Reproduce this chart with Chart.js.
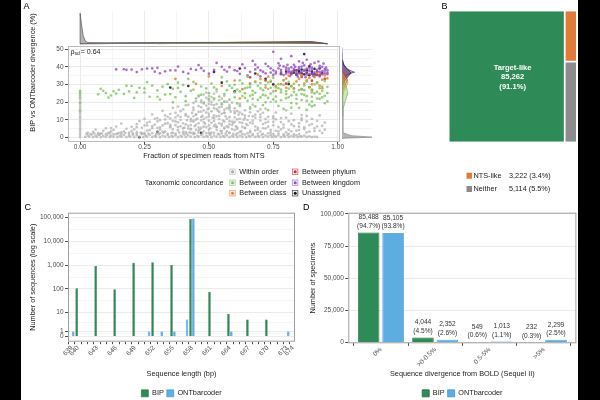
<!DOCTYPE html>
<html>
<head>
<meta charset="utf-8">
<script src="https://cdn.jsdelivr.net/npm/chart.js@4.4.1/dist/chart.umd.min.js"></script>
<style>
html,body{margin:0;padding:0;background:#fff;}
#wrap{position:relative;width:600px;height:400px;overflow:hidden;background:#fff;font-family:'Liberation Sans',Arial,sans-serif;}
#wrap canvas{position:absolute;}
.band{position:absolute;top:0;height:400px;background:#000;z-index:5;}
.plab{position:absolute;font-size:9px;line-height:1;color:#000;}
</style>
</head>
<body>
<div id="wrap">
<canvas id="cA" width="345" height="200" style="left:21px;top:0px;"></canvas>
<canvas id="cTop" width="345" height="46" style="left:21px;top:0px;"></canvas>
<canvas id="cRight" width="45" height="110" style="left:330px;top:40px;"></canvas>
<canvas id="cB" width="138" height="200" style="left:440px;top:0px;"></canvas>
<canvas id="cC" width="326" height="207" style="left:21px;top:200px;"></canvas>
<canvas id="cD" width="326" height="207" style="left:300px;top:200px;"></canvas>
<div class="plab" style="left:23.5px;top:2px;">A</div>
<div class="plab" style="left:441.5px;top:2px;">B</div>
<div class="plab" style="left:24.5px;top:203px;">C</div>
<div class="plab" style="left:303px;top:203px;">D</div>
<div class="band" style="left:0;width:21px;"></div>
<div class="band" style="left:578px;width:22px;"></div>
</div>
<script>
// ================= DATA =================
// Panel A: scatter, fraction of reads from NTS (x) vs divergence % (y)
const concordanceLabels = ['Within order','Between order','Between class','Between phylum','Between kingdom','Unassigned'];
const withinOrder = [
[0.02,0.3],[0.03,1.1],[0.035,0.5],[0.045,1.6],[0.05,0.2],[0.06,0.9],[0.065,0.4],[0.075,1.4],[0.08,0.2],[0.09,0.8],[0.1,0.4],[0.105,1.5],[0.115,0.3],[0.12,1.0],[0.13,0.5],[0.14,1.8],[0.145,0.2],[0.155,0.9],[0.16,0.4],[0.17,1.3],[0.18,0.2],[0.19,0.8],[0.195,0.5],[0.205,1.6],[0.21,0.3],[0.22,1.1],[0.23,0.4],[0.24,1.9],[0.245,0.2],[0.255,0.9],[0.26,0.5],[0.27,1.4],[0.28,0.3],[0.29,0.8],[0.295,0.4],[0.305,1.7],[0.31,0.2],[0.32,1.0],[0.33,0.5],[0.34,1.5],[0.345,0.3],[0.355,0.8],[0.36,0.4],[0.37,1.2],[0.38,0.2],[0.39,0.9],[0.395,0.5],[0.405,1.6],[0.41,0.3],[0.42,1.1],[0.43,0.4],[0.44,1.8],[0.445,0.2],[0.455,0.9],[0.46,0.5],[0.47,1.3],[0.48,0.3],[0.49,0.8],[0.495,0.4],[0.505,1.5],[0.51,0.2],[0.52,1.0],[0.53,0.5],[0.54,1.7],[0.545,0.3],[0.555,0.8],[0.56,0.4],[0.57,1.2],[0.58,0.2],[0.59,0.9],[0.595,0.5],[0.605,1.4],[0.61,0.3],[0.62,1.0],[0.63,0.4],[0.64,1.6],[0.645,0.2],[0.655,0.9],[0.66,0.5],[0.67,1.2],[0.68,0.3],[0.69,0.8],[0.695,0.4],[0.705,1.5],[0.71,0.2],[0.72,1.0],[0.73,0.5],[0.74,1.3],[0.745,0.3],[0.755,0.8],[0.76,0.4],[0.77,1.1],[0.78,0.2],[0.79,0.9],[0.795,0.5],[0.805,1.4],[0.81,0.3],[0.82,0.8],[0.83,0.4],[0.84,1.2],[0.845,0.2],[0.855,0.7],[0.86,0.4],[0.87,1.0],[0.88,0.3],[0.89,0.6],[0.9,0.2],[0.91,0.5],[0.92,0.3],
[0.025,2.1],[0.04,1.9],[0.055,2.3],[0.07,1.8],[0.085,2.2],[0.1,2.0],[0.115,2.4],[0.13,1.9],[0.145,2.2],[0.16,2.0],[0.175,2.5],[0.19,1.9],[0.205,2.3],[0.22,2.0],[0.235,2.6],[0.25,1.8],[0.265,2.2],[0.28,2.4],[0.295,1.9],[0.31,2.3],[0.325,2.7],[0.34,2.0],[0.355,2.4],[0.37,2.1],[0.385,2.8],[0.4,2.2],[0.415,2.0],[0.43,2.5],[0.445,2.2],[0.46,2.7],[0.475,2.0],[0.49,2.4],[0.505,2.1],[0.52,2.6],[0.535,2.0],[0.55,2.3],[0.565,2.1],[0.58,2.5],[0.595,2.0],[0.61,2.3],[0.63,2.0],[0.65,2.4],[0.67,1.9],[0.69,2.2],[0.71,2.0],[0.73,2.3],[0.75,1.9],[0.77,2.1],[0.79,1.8],[0.81,2.0],[0.83,1.7],[0.85,1.9],
[0.03,2.6],[0.05,3.2],[0.07,2.4],[0.09,3.8],[0.11,2.7],[0.13,4.3],[0.15,2.5],[0.17,3.4],[0.19,2.8],[0.21,4.6],[0.22,3.0],[0.25,2.5],[0.26,3.9],[0.28,5.2],[0.3,2.9],[0.31,4.4],[0.33,3.3],[0.35,5.8],[0.36,2.6],[0.38,4.1],[0.39,6.3],[0.41,3.0],[0.43,4.9],[0.44,2.7],[0.46,5.6],[0.48,3.5],[0.5,4.4],[0.51,2.8],[0.53,6.1],[0.55,3.6],[0.56,5.0],[0.58,2.6],[0.6,4.2],[0.62,3.1],[0.64,5.4],[0.66,2.9],[0.68,4.0],[0.7,3.3],[0.72,5.1],[0.74,2.7],[0.76,3.8],[0.78,4.6],[0.8,2.9],[0.82,3.5],[0.85,4.2],[0.88,2.8],[0.91,3.6],[0.94,2.5],
[0.47,21],[0.5,23.5],[0.52,21.5],[0.49,25.5],[0.55,22],[0.45,20.5],[0.57,20.3],[0.53,26],
[0.4,16],[0.42,18.5],[0.44,15.5],[0.46,17.8],[0.48,19.2],[0.5,16.4],[0.51,18.7],[0.54,17.1],[0.56,15.8],[0.58,18.3],[0.6,16.5],[0.62,19],[0.64,15.4],[0.66,17.2],[0.38,17.5],[0.7,16],
[0.3,11],[0.33,12.5],[0.35,10.8],[0.37,14],[0.39,11.6],[0.41,13.2],[0.43,10.5],[0.45,12.8],[0.47,14.6],[0.49,11.3],[0.5,13.4],[0.52,10.9],[0.54,12.2],[0.56,14.1],[0.58,11.5],[0.6,13.7],[0.62,10.6],[0.64,12.4],[0.66,14.3],[0.68,11.2],[0.7,13],[0.72,10.4],[0.75,12],[0.78,11],[0.82,13.5],[0.86,10.8],[0.88,12.2],[0.28,13],[0.25,10.5],
[0.2,6],[0.22,7.5],[0.24,5.5],[0.26,8.3],[0.28,6.4],[0.3,9.1],[0.31,5.7],[0.33,7.8],[0.35,6.2],[0.36,9.4],[0.38,5.9],[0.4,8.0],[0.42,6.6],[0.44,9.6],[0.45,7.2],[0.47,5.4],[0.48,8.6],[0.5,6.8],[0.52,9.3],[0.53,5.8],[0.55,7.7],[0.57,6.3],[0.59,9.0],[0.61,5.6],[0.63,8.2],[0.65,6.9],[0.67,9.5],[0.69,5.5],[0.71,7.6],[0.73,6.1],[0.75,8.8],[0.77,5.9],[0.79,7.3],[0.81,9.2],[0.83,6.4],[0.85,8.1],[0.87,5.7],[0.89,7.0],[0.92,6.2],[0.95,8.4],[0.16,7.9],[0.12,5.3],[0.86,9.8],[0.9,10.5],[0.93,12.5],
[0.40,3.2],[0.41,7.4],[0.42,11.8],[0.43,4.6],[0.44,8.9],[0.45,13.1],[0.46,3.8],[0.47,9.7],[0.48,6.1],[0.49,14.2],[0.5,2.6],[0.51,8.3],[0.52,12.6],[0.53,4.2],[0.54,10.4],[0.55,6.7],[0.56,13.8],[0.57,3.4],[0.58,9.2],[0.59,7.1],[0.6,11.4],[0.61,4.8],[0.62,8.6],[0.63,13.2],[0.64,5.3],[0.65,9.9],
[0.405,5.6],[0.415,9.8],[0.425,2.9],[0.435,13.9],[0.445,6.4],[0.455,10.7],[0.465,4.5],[0.475,12.2],[0.485,7.8],[0.495,16.1],[0.505,5.2],[0.515,11.3],[0.525,7.3],[0.535,15.2],[0.545,3.7],[0.555,9.6],[0.565,11.9],[0.575,5.8],[0.585,14.6],[0.595,8.2],[0.605,6.3],[0.615,12.8],[0.625,3.5],[0.635,10.1],[0.645,7.6],[0.655,12.1],
[0.41,18.3],[0.44,19.6],[0.47,17.1],[0.49,22.4],[0.51,20.2],[0.53,18.9],[0.55,17.4],[0.57,16.6],[0.59,19.7],[0.61,14.9],[0.46,23.2],[0.5,19.1],[0.54,21.1],[0.48,24.3],[0.52,24.8],[0.56,23.6],
[0.06,4.5],[0.08,2.2],[0.1,5.1],[0.12,3.4],[0.14,6.2],[0.16,2.9],[0.18,4.9],[0.2,3.6],[0.22,5.8],[0.24,2.4],[0.26,6.7],[0.27,4.1],[0.29,7.3],[0.3,5.4],[0.32,3.2],[0.34,8.1],[0.36,4.6],[0.37,7.0],[0.39,9.9],[0.4,5.1],[0.33,10.2],[0.35,13.3],[0.37,9.1],[0.38,12.4],[0.32,15.1],[0.36,16.8],
[0.66,3.7],[0.67,7.9],[0.68,12.9],[0.69,4.4],[0.7,9.6],[0.71,5.2],[0.72,8.3],[0.73,11.7],[0.74,4.1],[0.75,6.9],[0.76,10.3],[0.77,3.5],[0.78,8.7],[0.79,5.6],[0.8,11.2],[0.81,4.3],[0.82,7.4],[0.83,9.8],[0.84,3.9],[0.85,6.1],[0.86,12.7],[0.87,4.8],[0.88,9.1],[0.89,3.3],[0.9,7.6],[0.91,5.2],[0.92,9.4],[0.93,3.8],[0.94,6.6],[0.95,4.4],[0.69,14.8],[0.72,16.3],[0.76,14.1],[0.67,18.6],[0.8,15.4],[0.74,20.1],
[0.42,5.1],[0.43,9.2],[0.44,12.0],[0.45,4.3],[0.46,8.1],[0.47,11.6],[0.48,15.4],[0.49,5.9],[0.5,9.5],[0.51,14.8],[0.52,6.4],[0.53,11.9],[0.54,8.0],[0.55,13.4],[0.56,5.5],[0.57,10.6],[0.58,15.9],[0.59,4.7],[0.6,8.9],[0.61,10.2],[0.62,14.1],[0.63,6.0],[0.64,11.0],[0.46,14.5],[0.48,10.5],[0.5,11.9],[0.52,16.6],[0.54,14.4],[0.56,9.0],[0.58,7.4],[0.6,14.6],[0.44,16.9],[0.47,19.9],[0.51,22.9],[0.53,16.1],[0.55,19.3],[0.49,18.0],[0.5,20.8],[0.52,18.4],[0.45,10.1],[0.43,7.0],[0.41,12.4],[0.39,14.9],[0.38,8.6],[0.37,11.3],[0.66,8.4],[0.67,12.0],[0.68,6.2],[0.7,11.5],[0.71,14.0],[0.73,8.9],[0.75,10.9],[0.35,7.1],[0.34,11.7],[0.32,6.8],[0.31,9.8],[0.29,10.6],[0.27,8.9],[0.25,6.9],[0.23,9.3],
[0,0.2],[0,1.5],[0,2.7],[0,4.1],[0,5.3],[0,6.8],[0,8.2],[0,9.4],[0,10.9],[0,12.1],[0,13.6],[0,14.8],[0,16.3],[0,17.5],[0,19.0],[0,20.2],[0,21.7]
];
const betweenOrder = [
[0,22.8],[0,24.1],[0,25.3],[0,26.4],[0,19.6],[0,15.2],
[0.07,24.5],[0.09,26.5],[0.1,25.2],[0.12,23.8],[0.15,27],[0.17,24.7],[0.19,26.1],[0.21,22.4],[0.23,28.2],[0.25,25.5],[0.27,23.1],[0.28,29.4],[0.3,26.7],[0.31,21.5],[0.33,24.3],[0.34,30.2],[0.36,27.6],[0.37,22.8],[0.39,25.9],[0.4,29.8],[0.41,20.6],[0.43,26.4],[0.44,31.5],[0.46,23.7],[0.47,28.9],[0.48,19.8],[0.5,25.1],[0.51,30.6],[0.52,22.2],[0.53,27.3],[0.55,18.9],[0.56,24.6],[0.57,31.8],[0.58,21.4],[0.59,28.1],[0.6,25.7],[0.61,19.3],[0.62,32.4],[0.63,23.5],[0.64,27.9],[0.65,20.8],[0.66,30.1],[0.67,24.2],[0.68,17.6],[0.69,29.3],[0.7,22.7],[0.71,26.8],[0.72,19.9],[0.73,31.2],[0.74,24.9],[0.75,21.6],[0.76,28.4],[0.77,17.9],[0.78,25.6],[0.79,32.6],[0.8,22.3],[0.81,27.7],[0.82,19.5],[0.83,30.4],[0.84,24.1],[0.85,26.9],[0.86,21.2],[0.87,29.6],[0.88,23.4],[0.89,18.6],[0.9,27.2],[0.91,25.0],[0.92,30.8],[0.93,21.9],[0.94,26.3],[0.95,23.6],[0.96,28.7],
[0.62,26.1],[0.64,22.4],[0.66,28.6],[0.68,25.3],[0.7,30.9],[0.72,23.8],[0.74,28.2],[0.76,20.4],[0.78,27.1],[0.8,24.7],[0.82,29.1],[0.84,21.8],[0.86,27.4],[0.88,31.7],[0.9,23.1],[0.92,25.8],[0.94,22.7],[0.96,20.5],[0.85,16.8],[0.91,18.2],[0.79,16.2],[0.88,15.6],[0.57,26.8],[0.6,29.9],[0.54,23.2],[0.49,27.8],[0.45,22.1],[0.42,33.2],[0.38,31.1],[0.32,28.8],[0.26,31.4],[0.2,29.2],[0.14,24.9],[0.55,34.1],[0.65,34.5],[0.75,33.9],[0.83,25.9],[0.77,30.2],[0.71,18.4],[0.67,21.9],[0.73,27.5],[0.81,22.9],[0.87,24.2],[0.93,27.9],[0.95,32.1],[0.9,20.4],
[0.56,20.3],[0.58,29.4],[0.6,22.8],[0.61,27.2],[0.62,17.9],[0.63,30.6],[0.64,25.1],[0.65,28.3],[0.66,23.6],[0.67,26.4],[0.68,31.4],[0.69,21.3],[0.7,27.8],[0.71,24.1],[0.72,29.7],[0.73,22.4],[0.74,32.1],[0.75,26.1],[0.76,23.2],[0.77,27.9],[0.78,21.1],[0.79,29.8],[0.8,26.3],[0.81,31.5],[0.82,23.9],[0.83,27.6],[0.84,19.2],[0.85,29.7],[0.86,24.6],[0.87,26.8],[0.88,20.7],[0.89,28.4],[0.9,25.6],[0.91,30.1],[0.92,22.1],[0.93,24.8],[0.94,28.9],[0.95,19.4],[0.96,25.2],[0.52,28.4],[0.5,21.7],[0.47,24.2],[0.44,27.1],[0.41,23.4],[0.38,28.1],[0.35,24.6],[0.3,23.1],[0.25,27.8],[0.22,25.6],[0.18,29.4],[0.13,26.2],[0.08,27.6],[0.11,22.6],[0.36,19.9],[0.58,17.1],[0.66,16.4],[0.73,15.5],[0.82,16.9],[0.9,17.6]
];
const betweenClass = [
[0.37,33.2],[0.45,30.4],[0.5,34.6],[0.55,29.2],[0.6,32.3],[0.63,27.4],[0.66,30.7],[0.69,35.6],[0.7,33.1],[0.72,28.3],[0.74,31.6],[0.76,26.5],[0.78,30.2],[0.8,33.4],[0.82,29.1],[0.84,31.8],[0.86,27.3],[0.88,32.5],[0.9,30.1],[0.91,34.2],[0.92,36.5],[0.93,29.4],[0.94,32.8],[0.95,35.2],[0.62,22.1],[0.86,35.4],[0.8,28.2],[0.9,26.8],
[0.76,29.1],[0.79,32.4],[0.83,27.8],[0.87,30.6],[0.89,33.8],[0.92,31.2],[0.94,27.9],[0.96,33.5],[0.68,31.7],[0.73,34.5],[0.81,35.1],[0.85,33.2]
];
const betweenPhylum = [[0.66,34.1],[0.72,32.3],[0.8,30.5],[0.86,34.3],[0.89,28.6],[0.9,32.2],[0.93,35.4],[0.95,33.2]];
const betweenKingdom = [
[0.14,38.6],[0.17,38.7],[0.2,38.5],[0.22,37.1],[0.24,38.6],[0.28,39.2],[0.29,37.3],[0.31,36.4],[0.33,37.5],[0.35,38.1],[0.38,40.2],[0.4,37.2],[0.42,36.3],[0.45,38.4],[0.47,39.3],[0.5,36.2],[0.52,38.3],[0.55,40.1],[0.57,37.4],[0.6,38.2],[0.62,36.1],[0.64,39.4],[0.66,37.2],[0.68,41.3],[0.7,38.1],[0.72,36.4],[0.74,39.2],[0.75,48.6],[0.76,37.3],[0.77,42.1],[0.78,38.4],[0.79,40.3],[0.8,36.2],[0.81,39.1],[0.82,37.4],[0.83,41.2],[0.84,38.1],[0.85,36.3],[0.86,40.2],[0.87,38.3],[0.88,37.1],[0.89,39.4],[0.9,36.2],[0.91,42.3],[0.92,38.4],[0.93,37.2],[0.94,40.1],[0.95,36.4],
[0.8,38.5],[0.81,36.9],[0.82,39.8],[0.83,37.6],[0.84,35.8],[0.85,38.8],[0.86,37.4],[0.87,40.9],[0.88,35.6],[0.89,37.9],[0.9,39.6],[0.91,36.8],[0.92,35.3],[0.93,39.2],[0.94,37.6],[0.95,38.9],[0.96,35.9],[0.85,43.2],[0.88,44.1],[0.82,46.1],[0.67,43.4],[0.78,44.6],[0.72,41.8],[0.63,41.5],[0.58,39.9],[0.53,42.3],[0.46,41.1],[0.3,39.5],[0.65,35.2],[0.7,34.7],[0.75,35.5],[0.78,35.9],[0.74,36.8],[0.68,38.6],[0.96,38.2],[0.93,34.6],
[0.75,38.1],[0.76,36.3],[0.77,39.2],[0.78,37.2],[0.79,35.4],[0.8,39.7],[0.81,37.8],[0.82,35.9],[0.83,38.9],[0.84,36.6],[0.85,39.9],[0.86,35.5],[0.87,37.7],[0.88,39.1],[0.89,36.1],[0.9,38.3],[0.91,35.2],[0.92,37.1],[0.93,40.6],[0.94,35.8],[0.95,37.9],[0.96,36.8],[0.805,41.2],[0.835,40.1],[0.865,42.3],[0.895,41.5],[0.925,43.1],[0.945,41.9],[0.775,40.8],[0.815,34.8],[0.845,34.5],[0.875,34.2],[0.905,34.9],[0.935,36.3],[0.955,39.6],[0.69,39.7],[0.71,37.3],[0.73,40.4],[0.61,37.7],[0.56,38.4],[0.48,37.8],[0.43,38.9],[0.37,38.1],[0.26,39.1],[0.18,38.4]
];
const unassigned = [[0.23,0.1],[0.3,3.1],[0.47,2.6],[0.35,28.3],[0.42,29.2],[0.55,31.1],[0.6,26.2],[0.72,33.3],[0.78,36.2],[0.81,30.3],[0.84,38.1],[0.86,36.4],[0.87,47.3],[0.88,38.2],[0.9,37.4],[0.92,35.6],[0.62,39.1],[0.68,36.3],[0.75,30.1],[0.52,37.2],[0.89,40.3],[0.93,39.2],[0.83,36.7],[0.85,37.8],[0.91,38.9],[0.8,37.3],
[0.82,36.4],[0.84,35.6],[0.85,36.9],[0.87,35.8],[0.88,36.7],[0.89,35.3],[0.9,36.2],[0.91,35.9],[0.92,37.4],[0.86,38.5],[0.83,37.9],[0.94,36.5]];
const spearmanRho = 0.64;
const xTicksA = [0, 0.25, 0.5, 0.75, 1];
const yTicksA = [0, 10, 20, 30, 40, 50];

// Panel A marginal densities ([x, density] top; [density, y] right)
const topDensGray = [[0,0],[0,0.93],[0.006,0.55],[0.012,0.25],[0.02,0.08],[0.03,0.035],[0.1,0.03],[0.3,0.035],[0.5,0.04],[0.7,0.035],[0.9,0.025],[0.96,0]];
const topDensGreen = [[0.05,0],[0.3,0.015],[0.6,0.03],[0.8,0.035],[0.96,0]];
const topDensOrange = [[0.3,0],[0.5,0.02],[0.62,0.05],[0.75,0.055],[0.88,0.05],[0.96,0]];
const topDensPurple = [[0,0],[0.15,0.012],[0.35,0.02],[0.55,0.03],[0.7,0.045],[0.82,0.06],[0.9,0.065],[0.96,0]];
const topDensBlack = [[0,0],[0.2,0.01],[0.5,0.02],[0.75,0.035],[0.88,0.045],[0.96,0]];
const rightDensGray = [[0,-0.5],[1,0.15],[0.3,1],[0.06,2.5],[0.04,6],[0.035,15],[0.02,25],[0.01,35],[0.005,51],[0,51]];
const rightDensGreen = [[0,12],[0.03,16],[0.1,20],[0.17,24],[0.19,26],[0.14,29],[0.06,32],[0,35]];
const rightDensOrange = [[0,22],[0.06,26],[0.16,29.5],[0.2,31],[0.15,33],[0.05,35.5],[0,37]];
const rightDensRed = [[0,25],[0.08,29],[0.18,32.5],[0.14,34.5],[0.04,36.5],[0,38]];
const rightDensBlack = [[0,28],[0.08,32],[0.22,35],[0.3,36.5],[0.2,38.5],[0.06,41],[0,44]];
const rightDensPurple = [[0,30],[0.05,33],[0.16,35.5],[0.3,36.5],[0.42,37],[0.3,37.8],[0.15,39],[0.06,41.5],[0.02,44],[0,48]];

// Panel B: treemap
const treemapLabels = ['Target-like','NTS-like','Neither'];
const treemapCounts = [85262, 3222, 5114];
const treemapPct = [91.1, 3.4, 5.5];

// Panel C: sequence length distribution
const bipLengths = [640,643,646,649,652,655,658,661,664,667,670];
const bipCounts  = [107,930,98,1270,1330,1030,88000,77,9,5,5];
const ontLengths = [639,651,653,655,657,658,664,673];
const ontCounts  = [1,1,1,1,5,93000,1,1];
const lengthLabels = [639,640,643,646,649,652,655,658,661,664,667,670,673,674];
const countTicks = [0,1,10,100,1000,10000,100000];

// Panel D: divergence from BOLD
const divCategories = ['0%','>0-0.5%','0.5-5%','>5%'];
const bipSpecimens = [85488, 4044, 549, 232];
const ontSpecimens = [85105, 2352, 1013, 2299];
const bipPct = [94.7, 4.5, 0.6, 0.3];
const ontPct = [93.8, 2.6, 1.1, 2.5];
const specimenTicks = [0, 25000, 50000, 75000, 100000];

// ================= STYLE / SETUP =================
const FONT = "'Liberation Sans', Arial, Helvetica, sans-serif";
Chart.defaults.font.family = FONT;
Chart.defaults.font.size = 7;
Chart.defaults.color = '#4d4d4d';
Chart.defaults.animation = false;
Chart.defaults.responsive = false;
Chart.defaults.events = [];
Chart.defaults.plugins.legend.display = false;
Chart.defaults.plugins.tooltip.enabled = false;

const GRID_MAJ = '#ebebeb', GRID_MIN = '#f5f5f5', TICKC = '#4d4d4d', TITLEC = '#1a1a1a';
const concColors = ['rgba(178,178,178,0.75)','rgba(125,198,92,0.8)','rgba(240,128,48,0.85)','rgba(214,39,40,0.85)','rgba(148,80,190,0.8)','rgba(30,18,30,0.85)'];
const concSolid = ['#a8a8a8','#7dc65c','#f08030','#d62728','#9450be','#1e121e'];
const BIP_COL = '#2e8b57', BIP_EDGE = '#1d6b3e', ONT_COL = '#5dade2', ONT_EDGE = '#3e93d3';

const near = (arr, v) => arr.some(a => Math.abs(a - v) < 1e-9);
const halfSteps = arr => { const out = []; for (let i = 0; i < arr.length; i++) { out.push(arr[i]); if (i < arr.length - 1) out.push((arr[i] + arr[i+1]) / 2); } return out; };
const pts = arr => arr.map(([x, y]) => ({x, y}));
const plog = v => Math.asinh(v / 2) / Math.LN10;
const fmt = n => n.toLocaleString('en-US');

const boxPlugin = {
  id: 'panelBox',
  afterDraw(chart, args, opts) {
    if (!opts || !opts.color) return;
    const a = chart.chartArea, c = chart.ctx;
    c.save(); c.strokeStyle = opts.color; c.lineWidth = 1;
    c.strokeRect(a.left + 0.5, a.top + 0.5, a.right - a.left - 1, a.bottom - a.top - 1);
    c.restore();
  }
};
Chart.register(boxPlugin);

// ================= PANEL A: scatter =================
const xGridA = halfSteps(xTicksA), yGridA = halfSteps(yTicksA);
const concData = [withinOrder, betweenOrder, betweenClass, betweenPhylum, betweenKingdom, unassigned];

const panelAExtras = {
  id: 'panelAExtras',
  afterDraw(chart) {
    const c = chart.ctx, a = chart.chartArea;
    c.save();
    c.fillStyle = TITLEC; c.textBaseline = 'middle';
    c.save(); c.translate(12, 72.5); c.rotate(-Math.PI / 2);
    c.font = `7.3px ${FONT}`; c.textAlign = 'center';
    c.fillText('BIP vs ONTbarcoder divergence (%)', 0, 0);
    c.restore();
    let x = a.left + 2.5; const y = a.top + 6;
    c.textAlign = 'left';
    c.font = `7px ${FONT}`; c.fillText('\u03C1', x, y); x += c.measureText('\u03C1').width;
    c.font = `5px ${FONT}`; c.fillText('sd', x, y + 2); x += c.measureText('sd').width + 1;
    c.font = `7px ${FONT}`; c.fillText('= ' + spearmanRho.toFixed(2), x, y);
    c.font = `7.3px ${FONT}`; c.textAlign = 'right';
    c.fillText('Taxonomic concordance', 202.5, 182.7);
    const colX = [211.5, 274.2], rowY = [171.7, 182.7, 193.3];
    c.textAlign = 'left';
    concordanceLabels.forEach((lab, i) => {
      const cx = colX[Math.floor(i / 3)], cy = rowY[i % 3];
      c.fillStyle = '#f0f0f0'; c.fillRect(cx - 3, cy - 3, 6, 6);
      c.strokeStyle = concColors[i]; c.lineWidth = 0.6; c.strokeRect(cx - 2.7, cy - 2.7, 5.4, 5.4);
      c.beginPath(); c.arc(cx, cy, 1.5, 0, Math.PI * 2); c.fillStyle = concSolid[i]; c.fill();
      c.fillStyle = TITLEC; c.fillText(lab, cx + 6.8, cy);
    });
    c.restore();
  }
};

new Chart(document.getElementById('cA'), {
  type: 'scatter',
  data: { datasets: concData.map((d, i) => ({
    label: concordanceLabels[i], data: pts(d), backgroundColor: concColors[i],
    pointRadius: 1.35, pointBorderWidth: 0, pointHoverRadius: 0
  })) },
  options: {
    layout: { padding: { left: 0, top: 46, right: 26, bottom: 0 }, autoPadding: false },
    scales: {
      x: { type: 'linear', min: -0.047, max: 1.009,
        afterBuildTicks: s => { s.ticks = xGridA.map(v => ({ value: v })); },
        afterFit: s => { s.height = 58; },
        grid: { color: c => near(xTicksA, c.tick.value) ? GRID_MAJ : GRID_MIN,
                tickColor: c => near(xTicksA, c.tick.value) ? TICKC : 'rgba(0,0,0,0)', tickLength: 2.5 },
        border: { display: false },
        ticks: { autoSkip: false, maxRotation: 0, padding: -0.5, font: { size: 6.5, lineHeight: 1 },
                 callback: v => near(xTicksA, v) ? v.toFixed(2) : '' },
        title: { display: true, text: 'Fraction of specimen reads from NTS', color: TITLEC,
                 font: { size: 7.3 }, padding: { top: 0, bottom: 39.6 } } },
      y: { type: 'linear', min: -2.6, max: 51.9,
        afterBuildTicks: s => { s.ticks = yGridA.map(v => ({ value: v })); },
        afterFit: s => { s.width = 47; },
        grid: { color: c => near(yTicksA, c.tick.value) ? GRID_MAJ : GRID_MIN,
                tickColor: c => near(yTicksA, c.tick.value) ? TICKC : 'rgba(0,0,0,0)', tickLength: 3 },
        border: { display: false },
        ticks: { autoSkip: false, padding: 1.5, font: { size: 6.5 },
                 callback: v => near(yTicksA, v) ? String(v) : '' } }
    },
    plugins: { panelBox: { color: '#bdbdbd' } }
  },
  plugins: [panelAExtras]
});

function densSet(d, fill, edge) {
  return { type: 'line', data: pts(d), fill: 'shape', backgroundColor: fill, borderColor: edge,
           borderWidth: 0.7, pointRadius: 0, tension: 0, showLine: true };
}
new Chart(document.getElementById('cTop'), {
  type: 'scatter',
  data: { datasets: [
    densSet(topDensGray, 'rgba(150,150,150,0.7)', '#555555'),
    densSet(topDensGreen, 'rgba(125,198,92,0.5)', '#4c7a3a'),
    densSet(topDensOrange, 'rgba(240,140,60,0.55)', '#a65a20'),
    densSet(topDensPurple, 'rgba(120,60,150,0.55)', '#4a1f4f'),
    densSet(topDensBlack, 'rgba(40,20,40,0.45)', '#2a0f2a')
  ] },
  options: {
    layout: { padding: { left: 47, top: 11, right: 26, bottom: 0 }, autoPadding: false },
    scales: {
      x: { type: 'linear', min: -0.047, max: 1.009,
        afterBuildTicks: s => { s.ticks = xGridA.map(v => ({ value: v })); },
        afterFit: s => { s.height = 1; },
        grid: { color: c => near(xTicksA, c.tick.value) ? GRID_MAJ : GRID_MIN, drawTicks: false },
        border: { display: false }, ticks: { display: false } },
      y: { display: false, min: -0.04, max: 1 }
    }
  }
});

new Chart(document.getElementById('cRight'), {
  type: 'scatter',
  data: { datasets: [
    densSet(rightDensGray, 'rgba(150,150,150,0.7)', '#8a8a8a'),
    densSet(rightDensGreen, 'rgba(140,205,110,0.45)', '#7ab85a'),
    densSet(rightDensOrange, 'rgba(245,160,60,0.45)', '#e0902c'),
    densSet(rightDensRed, 'rgba(215,60,50,0.4)', '#b33a2e'),
    densSet(rightDensBlack, 'rgba(60,30,60,0.5)', '#2d1030'),
    densSet(rightDensPurple, 'rgba(170,120,220,0.6)', '#5a2f78')
  ] },
  options: {
    layout: { padding: { left: 12, top: 6, right: 3, bottom: 8 }, autoPadding: false },
    scales: {
      x: { display: false, min: 0, max: 1 },
      y: { type: 'linear', min: -2.6, max: 51.9,
        afterBuildTicks: s => { s.ticks = yGridA.map(v => ({ value: v })); },
        afterFit: s => { s.width = 0; },
        grid: { color: c => near(yTicksA, c.tick.value) ? GRID_MAJ : GRID_MIN, drawTicks: false },
        border: { display: false }, ticks: { display: false } }
    }
  }
});

// ================= PANEL B: treemap =================
const tmTotal = treemapCounts.reduce((a, b) => a + b, 0);
const tmMain = treemapCounts[0] / tmTotal;
const tmTop = treemapCounts[1] / (treemapCounts[1] + treemapCounts[2]);
const gapX = 0.007, gapY = 0.007;
const tmRects = [
  [0, 0, tmMain - gapX, 1],
  [tmMain + gapX, 1 - tmTop + gapY, 1, 1],
  [tmMain + gapX, 0, 1, 1 - tmTop - gapY]
];
const tmColors = ['#2e8b57', '#e07b39', '#8c8c8c'];

const panelBExtras = {
  id: 'panelBExtras',
  afterDraw(chart) {
    const c = chart.ctx, a = chart.chartArea;
    c.save();
    c.fillStyle = '#ffffff'; c.font = `bold 7.6px ${FONT}`; c.textAlign = 'center'; c.textBaseline = 'middle';
    const cx = (a.left + a.right) / 2;
    c.fillText(treemapLabels[0], cx, 68);
    c.fillText(fmt(treemapCounts[0]), cx, 77.3);
    c.fillText('(' + treemapPct[0].toFixed(1) + '%)', cx, 86.7);
    c.font = `7.3px ${FONT}`; c.textAlign = 'left';
    [1, 2].forEach((k, r) => {
      const cy = [175.7, 189][r];
      c.fillStyle = tmColors[k]; c.fillRect(26.5, cy - 3, 5.5, 6);
      c.fillStyle = TITLEC;
      c.fillText(treemapLabels[k], 33.5, cy);
      c.fillText(fmt(treemapCounts[k]) + ' (' + treemapPct[k].toFixed(1) + '%)', 69, cy);
    });
    c.restore();
  }
};

new Chart(document.getElementById('cB'), {
  type: 'scatter',
  data: { datasets: tmRects.map((r, i) => ({
    type: 'line', label: treemapLabels[i],
    data: [{x: r[0], y: r[1]}, {x: r[0], y: r[3]}, {x: r[2], y: r[3]}, {x: r[2], y: r[1]}],
    fill: 'shape', backgroundColor: tmColors[i], borderColor: tmColors[i], borderWidth: 0,
    pointRadius: 0, tension: 0, showLine: true
  })) },
  options: {
    layout: { padding: { left: 9.3, top: 11.3, right: 2, bottom: 58.3 }, autoPadding: false },
    scales: { x: { display: false, min: 0, max: 1 }, y: { display: false, min: 0, max: 1 } }
  },
  plugins: [panelBExtras]
});

// ================= PANEL C: lengths (pseudo-log) =================
const cMaj = countTicks.map(plog);
const cGrid = halfSteps(cMaj);
const lenTicks = [];
for (let v = lengthLabels[0]; v <= lengthLabels[lengthLabels.length - 1]; v++) lenTicks.push(v);

const legendOpts = { display: true, position: 'bottom',
  labels: { boxWidth: 7, boxHeight: 7, padding: 3, color: TITLEC, font: { size: 7.3 } } };
// invisible right-hand spacer so the legend centres under the panel, as in the figure
const spacer = w => ({ position: 'right', display: true, min: 0, max: 1, afterFit: s => { s.width = w; },
  grid: { display: false }, border: { display: false }, ticks: { display: false } });

new Chart(document.getElementById('cC'), {
  type: 'bar',
  data: { datasets: [
    { label: 'BIP', data: bipLengths.map((x, i) => ({ x, y: plog(bipCounts[i]) })),
      backgroundColor: BIP_COL, borderColor: BIP_EDGE, borderWidth: 0.6 },
    { label: 'ONTbarcoder', data: ontLengths.map((x, i) => ({ x, y: plog(ontCounts[i]) })),
      backgroundColor: ONT_COL, borderColor: ONT_EDGE, borderWidth: 0.6 }
  ] },
  options: {
    categoryPercentage: 0.9, barPercentage: 0.9,
    layout: { padding: { left: 0, top: 12.7, right: 5, bottom: 0 }, autoPadding: false },
    plugins: { legend: legendOpts, panelBox: { color: '#a0a0a0' } },
    scales: {
      x: { type: 'linear', min: 638.4, max: 674.3, offset: false,
        afterBuildTicks: s => { s.ticks = lenTicks.map(v => ({ value: v })); },
        afterFit: s => { s.height = 45; },
        grid: { drawOnChartArea: false, tickColor: TICKC, tickLength: 2.5 },
        border: { display: false },
        ticks: { autoSkip: false, minRotation: 45, maxRotation: 45, padding: 0, font: { size: 6.5 },
                 callback: v => lengthLabels.includes(v) ? String(v) : '' },
        title: { display: true, text: 'Sequence length (bp)', color: TITLEC, font: { size: 7.3 },
                 padding: { top: 0, bottom: 8.3 } } },
      y: { type: 'linear', min: -0.22, max: 5.21,
        afterBuildTicks: s => { s.ticks = cGrid.map(v => ({ value: v })); },
        afterFit: s => { s.width = 47; },
        grid: { color: c => near(cMaj, c.tick.value) ? GRID_MAJ : GRID_MIN,
                tickColor: c => near(cMaj, c.tick.value) ? TICKC : 'rgba(0,0,0,0)', tickLength: 3 },
        border: { display: false },
        ticks: { autoSkip: false, padding: 1.5, font: { size: 6.5 },
                 callback: v => { const j = cMaj.findIndex(m => Math.abs(m - v) < 1e-9); return j >= 0 ? fmt(countTicks[j]) : ''; } },
        title: { display: true, text: 'Number of sequences (log scale)', color: TITLEC, font: { size: 7.3 },
                 padding: { top: 7.6, bottom: 0 } } },
      yr: spacer(47)
    }
  }
});

// ================= PANEL D: divergence =================
const barLabelPlugin = {
  id: 'barLabels',
  afterDatasetsDraw(chart) {
    const c = chart.ctx;
    c.save(); c.font = `6.6px ${FONT}`; c.fillStyle = '#333333'; c.textAlign = 'center'; c.textBaseline = 'middle';
    chart.data.datasets.forEach((ds, di) => {
      chart.getDatasetMeta(di).data.forEach((bar, j) => {
        c.fillText(fmt(ds.counts[j]), bar.x, bar.y - 15);
        c.fillText('(' + ds.pct[j].toFixed(1) + '%)', bar.x, bar.y - 6.5);
      });
    });
    c.restore();
  }
};

new Chart(document.getElementById('cD'), {
  type: 'bar',
  data: { datasets: [
    { label: 'BIP', data: bipSpecimens.map((v, i) => ({ x: i, y: v })), counts: bipSpecimens, pct: bipPct,
      backgroundColor: BIP_COL, borderColor: BIP_EDGE, borderWidth: 0.8 },
    { label: 'ONTbarcoder', data: ontSpecimens.map((v, i) => ({ x: i, y: v })), counts: ontSpecimens, pct: ontPct,
      backgroundColor: ONT_COL, borderColor: ONT_EDGE, borderWidth: 0.8 }
  ] },
  options: {
    categoryPercentage: 0.9, barPercentage: 0.88,
    layout: { padding: { left: 0, top: 12.7, right: 1.3, bottom: 0 }, autoPadding: false },
    plugins: { legend: legendOpts, panelBox: { color: '#a0a0a0' } },
    scales: {
      x: { type: 'linear', min: -0.6, max: 3.6, offset: false,
        afterBuildTicks: s => { s.ticks = divCategories.map((_, i) => ({ value: i })); },
        afterFit: s => { s.height = 43.4; },
        grid: { drawOnChartArea: false, tickColor: TICKC, tickLength: 2.5 },
        border: { display: false },
        ticks: { autoSkip: false, minRotation: 45, maxRotation: 45, padding: 0, font: { size: 6.5 },
                 callback: v => divCategories[v] ?? '' },
        title: { display: true, text: 'Sequence divergence from BOLD (Sequel II)', color: TITLEC, font: { size: 7.3 },
                 padding: { top: 0, bottom: 8.3 } } },
      y: { type: 'linear', min: -470, max: 100900,
        afterBuildTicks: s => { s.ticks = specimenTicks.map(v => ({ value: v })); },
        afterFit: s => { s.width = 48.3; },
        grid: { color: GRID_MAJ, tickColor: TICKC, tickLength: 3 },
        border: { display: false },
        ticks: { autoSkip: false, padding: 1.5, font: { size: 6.5 }, callback: v => fmt(v) },
        title: { display: true, text: 'Number of specimens', color: TITLEC, font: { size: 7.3 },
                 padding: { top: 8.9, bottom: 0 } } },
      yr: spacer(48.3)
    }
  },
  plugins: [barLabelPlugin]
});
</script>
</body>
</html>
